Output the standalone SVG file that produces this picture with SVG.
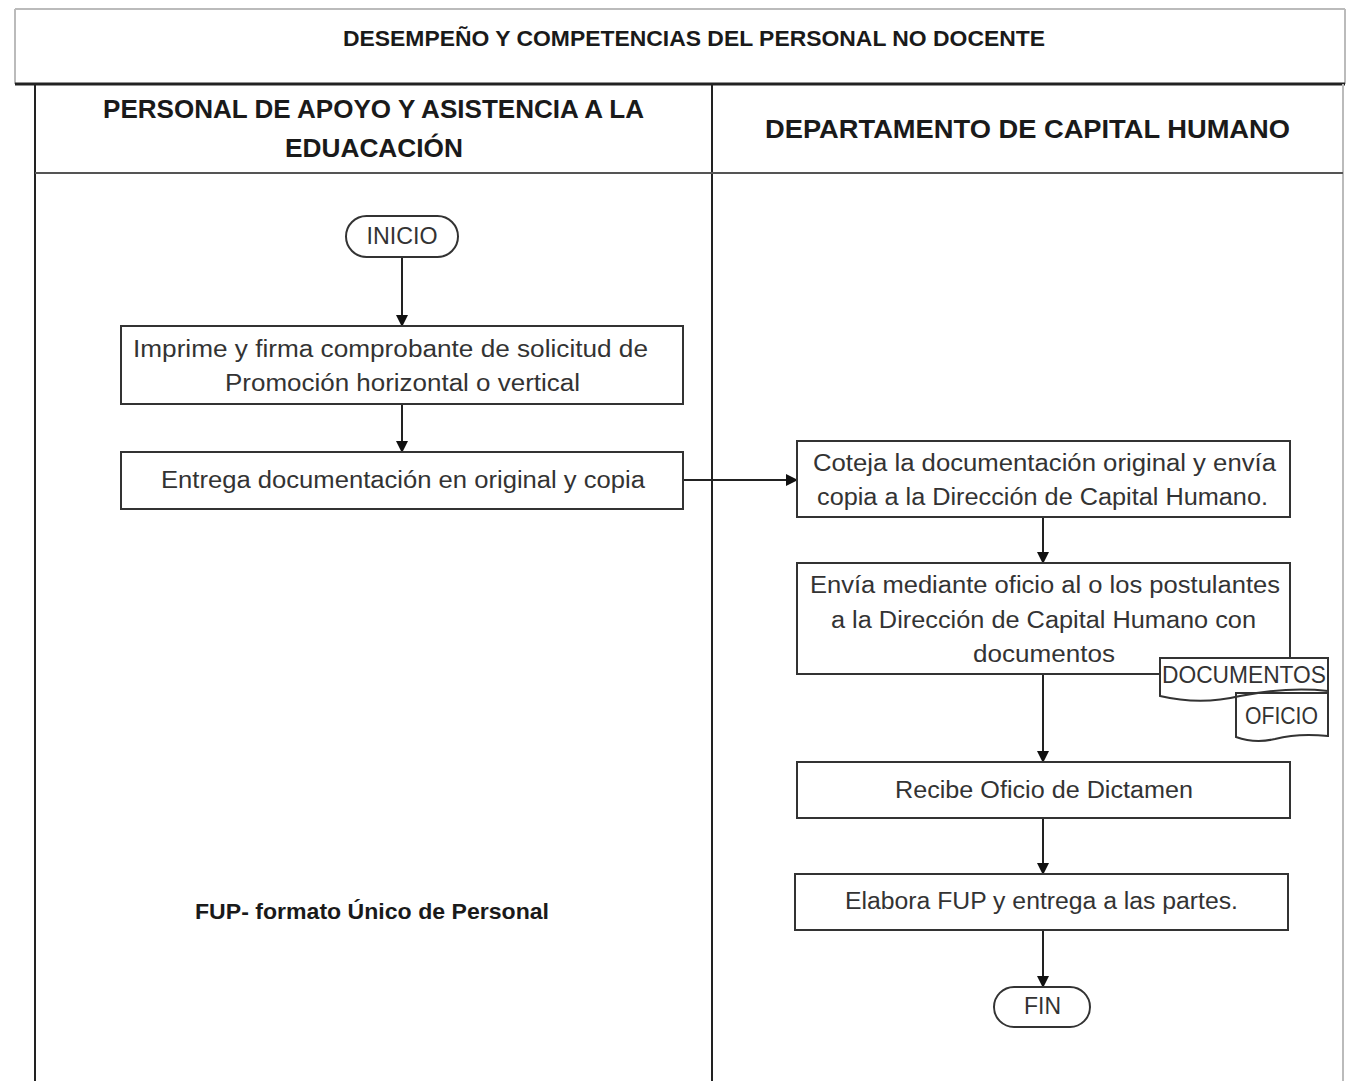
<svg xmlns="http://www.w3.org/2000/svg" width="1348" height="1081" viewBox="0 0 1348 1081">
<defs>
<style>
.frame{stroke:#222;stroke-width:2;fill:none}
.light{stroke:#bbb;stroke-width:2;fill:none}
.box{stroke:#333;stroke-width:2;fill:#fff}
.conn{stroke:#222;stroke-width:2;fill:none}
.t{font-family:"Liberation Sans",Arial,sans-serif;font-size:23px;fill:#333;text-anchor:middle}
.h{font-family:"Liberation Sans",Arial,sans-serif;font-weight:bold;fill:#1a1a1a;text-anchor:middle}
</style>
<marker id="arr" markerWidth="12" markerHeight="12" refX="11" refY="6" orient="auto" markerUnits="userSpaceOnUse">
<path d="M0,0 L12,6 L0,12 Z" fill="#111"/>
</marker>
</defs>
<rect width="1348" height="1081" fill="#fff"/>
<g id="table">
<line class="light" x1="15" y1="9" x2="1345" y2="9"/>
<line class="light" x1="15" y1="9" x2="15" y2="84"/>
<line class="light" x1="1345" y1="9" x2="1345" y2="84"/>
<line x1="15" y1="84" x2="1345" y2="84" stroke="#222" stroke-width="3"/>
<line class="frame" x1="35" y1="84" x2="35" y2="1081"/>
<line class="frame" x1="712" y1="84" x2="712" y2="1081"/>
<line class="light" x1="1343" y1="84" x2="1343" y2="1081"/>
<line x1="35" y1="173" x2="1343" y2="173" stroke="#555" stroke-width="2"/>
<text class="h" x="694" y="46" font-size="22" textLength="702" lengthAdjust="spacingAndGlyphs">DESEMPEÑO Y COMPETENCIAS DEL PERSONAL NO DOCENTE</text>
<text class="h" x="373.5" y="118" font-size="26" textLength="541" lengthAdjust="spacingAndGlyphs">PERSONAL DE APOYO Y ASISTENCIA A LA</text>
<text class="h" x="374" y="157" font-size="26" textLength="178" lengthAdjust="spacingAndGlyphs">EDUACACIÓN</text>
<text class="h" x="1027.5" y="138" font-size="26" textLength="525" lengthAdjust="spacingAndGlyphs">DEPARTAMENTO DE CAPITAL HUMANO</text>
</g>
<g id="connectors">
<line class="conn" x1="402" y1="257" x2="402" y2="326" marker-end="url(#arr)"/>
<line class="conn" x1="402" y1="404" x2="402" y2="452" marker-end="url(#arr)"/>
<line class="conn" x1="683" y1="480" x2="797" y2="480" marker-end="url(#arr)"/>
<line class="conn" x1="1043" y1="517" x2="1043" y2="563" marker-end="url(#arr)"/>
<line class="conn" x1="1043" y1="674" x2="1043" y2="762" marker-end="url(#arr)"/>
<line class="conn" x1="1043" y1="818" x2="1043" y2="874" marker-end="url(#arr)"/>
<line class="conn" x1="1043" y1="930" x2="1043" y2="987" marker-end="url(#arr)"/>
</g>
<g id="inicio">
<rect class="box" x="346" y="216" width="112" height="41" rx="20.5"/>
<text class="t" x="402" y="244" font-size="21" textLength="71" lengthAdjust="spacingAndGlyphs">INICIO</text>
</g>
<g id="imprime">
<rect class="box" x="121" y="326" width="562" height="78"/>
<text class="t" x="390.5" y="357" textLength="515" lengthAdjust="spacingAndGlyphs">Imprime y firma comprobante de solicitud de</text>
<text class="t" x="402.5" y="391" textLength="355" lengthAdjust="spacingAndGlyphs">Promoción horizontal o vertical</text>
</g>
<g id="entrega">
<rect class="box" x="121" y="452" width="562" height="57"/>
<text class="t" x="403" y="488" textLength="484" lengthAdjust="spacingAndGlyphs">Entrega documentación en original y copia</text>
</g>
<g id="coteja">
<rect class="box" x="797" y="441" width="493" height="76"/>
<text class="t" x="1044.5" y="471" textLength="463" lengthAdjust="spacingAndGlyphs">Coteja la documentación original y envía</text>
<text class="t" x="1042.5" y="505" textLength="451" lengthAdjust="spacingAndGlyphs">copia a la Dirección de Capital Humano.</text>
</g>
<g id="envia">
<rect class="box" x="797" y="563" width="493" height="111"/>
<text class="t" x="1045" y="593" textLength="470" lengthAdjust="spacingAndGlyphs">Envía mediante oficio al o los postulantes</text>
<text class="t" x="1043.5" y="628" textLength="425" lengthAdjust="spacingAndGlyphs">a la Dirección de Capital Humano con</text>
<text class="t" x="1044" y="662" textLength="142" lengthAdjust="spacingAndGlyphs">documentos</text>
</g>
<g id="documentos">
<path d="M1160,658 L1328,658 L1328,691 C1300,688 1270,690 1240,696 C1215,702 1190,703 1160,696 Z" fill="#fff" stroke="#333" stroke-width="2"/>
<text class="t" x="1244" y="683" font-size="21" textLength="164" lengthAdjust="spacingAndGlyphs">DOCUMENTOS</text>
</g>
<g id="oficio">
<path d="M1236,693 L1328,693 L1328,736 C1310,734 1290,735 1275,739 C1262,742 1250,742 1236,737 Z" fill="none" stroke="#333" stroke-width="2"/>
<text class="t" x="1281.5" y="724" font-size="21" textLength="73" lengthAdjust="spacingAndGlyphs">OFICIO</text>
</g>
<g id="recibe">
<rect class="box" x="797" y="762" width="493" height="56"/>
<text class="t" x="1044" y="798" textLength="298" lengthAdjust="spacingAndGlyphs">Recibe Oficio de Dictamen</text>
</g>
<g id="elabora">
<rect class="box" x="795" y="874" width="493" height="56"/>
<text class="t" x="1041.5" y="909" textLength="393" lengthAdjust="spacingAndGlyphs">Elabora FUP y entrega a las partes.</text>
</g>
<g id="fin">
<rect class="box" x="994" y="987" width="96" height="40" rx="20"/>
<text class="t" x="1042.5" y="1014" font-size="21" textLength="37" lengthAdjust="spacingAndGlyphs">FIN</text>
</g>
<g id="nota">
<text class="h" x="372" y="919" font-size="22" textLength="354" lengthAdjust="spacingAndGlyphs">FUP- formato Único de Personal</text>
</g>
</svg>
